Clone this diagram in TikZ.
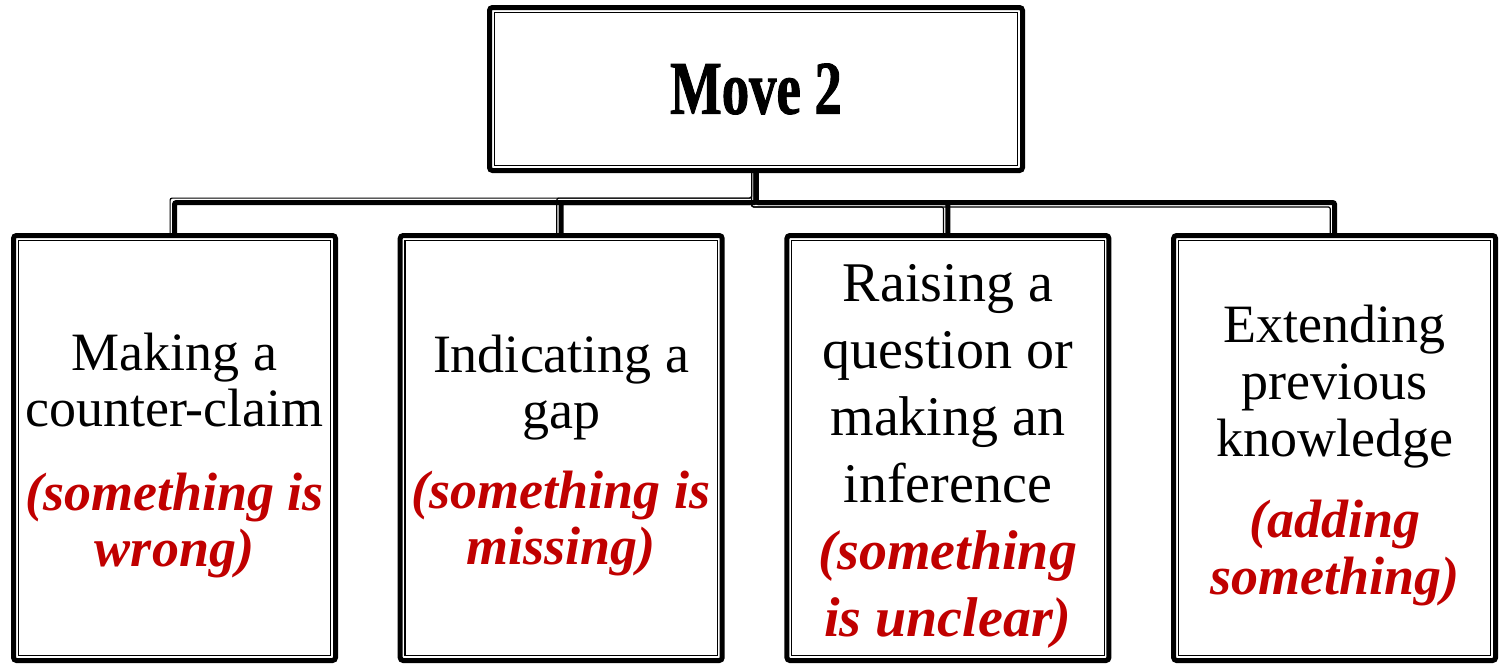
\documentclass[tikz,border=0pt]{standalone}
\usepackage{fontspec}
\setmainfont{Liberation Serif}
\newfontfamily\movefont{Liberation Serif}[FakeStretch=0.72,FakeBold=1.2]
\usepackage{xcolor}
\usepackage{tikz}
\usetikzlibrary{calc,positioning}
\definecolor{movered}{RGB}{192,0,0}
\newcommand{\movenote}[1]{{\color{movered}\bfseries\itshape #1}}
\newcommand{\kidgap}{\rule{0pt}{26.5pt}}
\tikzset{%
	movebox/.style  = {draw, rectangle, line width=2.5pt, rounded corners=1.5pt, inner sep=0pt, outer sep=0pt,
		path picture={\draw[line width=0.6pt,sharp corners] ([shift={(2.4pt,-2.4pt)}]path picture bounding box.north west) rectangle ([shift={(-2.4pt,2.4pt)}]path picture bounding box.south east);}},
	topbox/.style   = {movebox, minimum width=266.5pt, minimum height=81.5pt, font=\movefont\bfseries\fontsize{38}{40}\selectfont},
	kidbox/.style   = {movebox, minimum width=161pt, minimum height=212.5pt, align=center, font=\fontsize{27}{28}\selectfont},
	linkthick/.style = {line width=2.5pt, rounded corners=1pt},
	linkthin/.style  = {line width=0.6pt, rounded corners=1pt},
}

\begin{document}
\begin{tikzpicture}[node distance=32.35pt]
	\useasboundingbox (0,0) rectangle (749.5pt,-332pt);
	\node [topbox] (move) at (378pt,-44.5pt) {Move 2};
	\node [kidbox] (claim) at (87.25pt,-224pt) {\kidgap Making a\\counter-claim\\[14pt]\movenote{(something is}\\\movenote{wrong)}};
	\node [kidbox] (gap) [right=of claim] {\kidgap Indicating a\\gap\\[12pt]\movenote{(something is}\\\movenote{missing)}};
	\node [kidbox,font=\fontsize{28}{33.5}\selectfont] (question) [right=of gap] {\kidgap Raising a\\question or\\making an\\inference\\\movenote{(something}\\\movenote{is unclear)}};
	\node [kidbox,font=\fontsize{27}{28.5}\selectfont] (extend) [right=of question] {\kidgap Extending\\previous\\knowledge\\[12pt]\movenote{(adding}\\\movenote{something)}};
	\coordinate (bar) at ([yshift=-16pt]move.south);
	
	% thick-thin links
	\foreach \kid/\side in {claim/1, gap/1, question/-1, extend/-1} {
		\draw[linkthick] (move.south) -- (bar) -| (\kid.north);
		\draw[linkthin] ([xshift=-2.2pt]move.south) |- ($(bar -| \kid.north)+(-2.2pt,\side*2.2pt)$) -- ([xshift=-2.2pt]\kid.north);
	}
\end{tikzpicture}
\end{document}
